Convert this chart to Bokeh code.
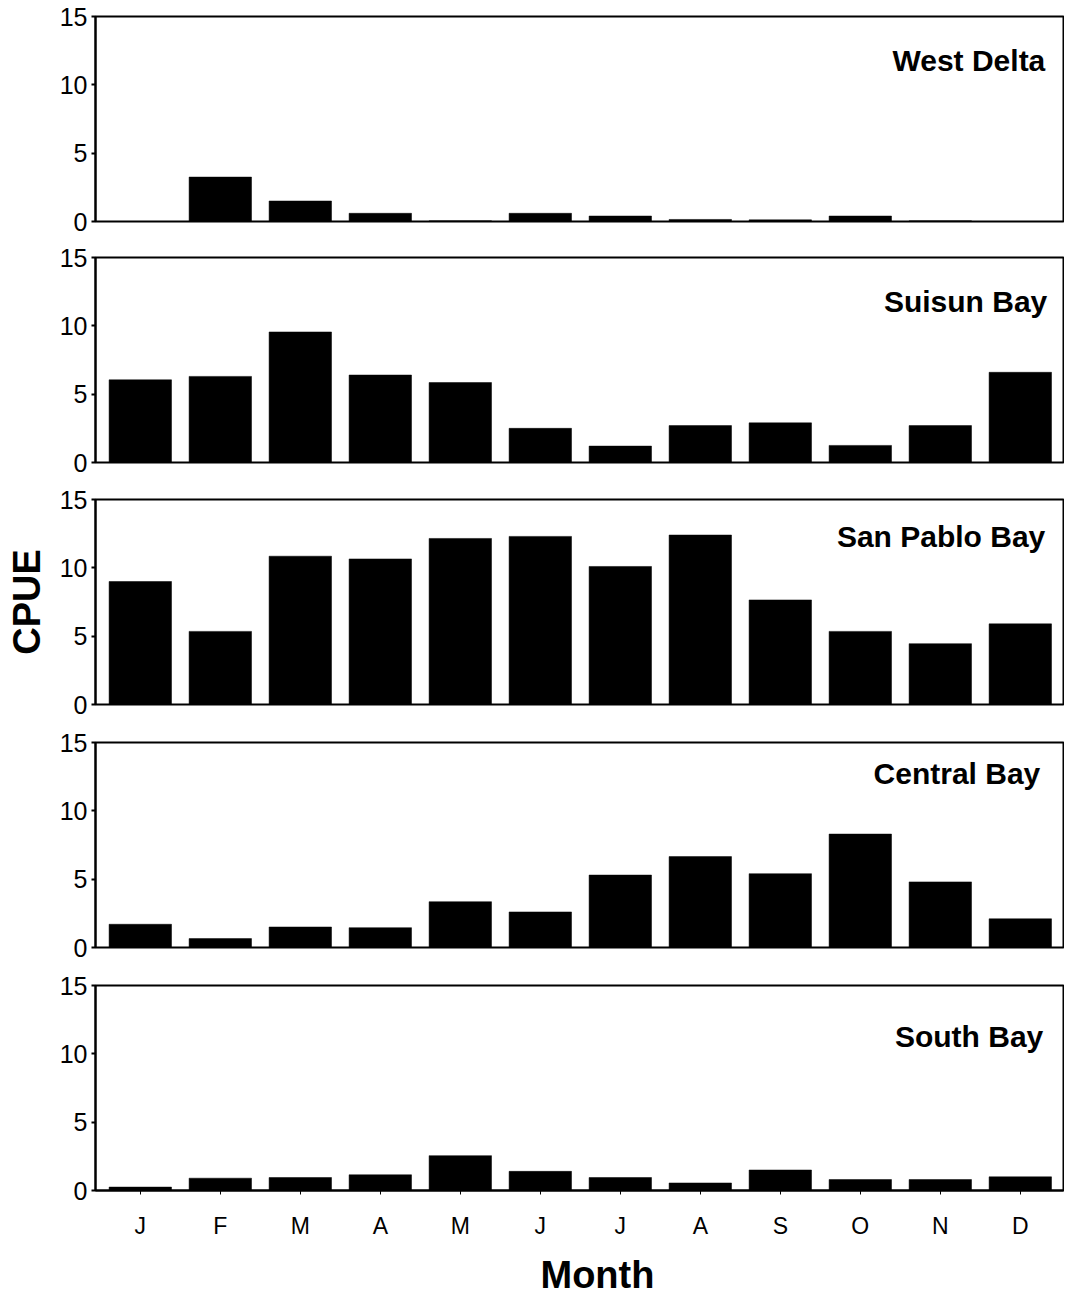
from bokeh.plotting import figure
from bokeh.layouts import column
from bokeh.models import Range1d, FixedTicker, Label, Title
from bokeh.embed import file_html
from bokeh.resources import INLINE

# ---- data ----
month_num = list(range(1, 13))
month_labels = ["J", "F", "M", "A", "M", "J", "J", "A", "S", "O", "N", "D"]
regions = ["West Delta", "Suisun Bay", "San Pablo Bay", "Central Bay", "South Bay"]
west_delta = [0.0, 3.25, 1.5, 0.6, 0.05, 0.6, 0.4, 0.15, 0.12, 0.4, 0.05, 0.0]
suisun_bay = [6.05, 6.3, 9.55, 6.4, 5.85, 2.5, 1.2, 2.7, 2.9, 1.25, 2.7, 6.6]
san_pablo_bay = [9.0, 5.35, 10.85, 10.65, 12.15, 12.3, 10.1, 12.4, 7.65, 5.35, 4.45, 5.9]
central_bay = [1.7, 0.65, 1.5, 1.45, 3.35, 2.6, 5.3, 6.65, 5.4, 8.3, 4.8, 2.1]
south_bay = [0.25, 0.9, 0.95, 1.15, 2.55, 1.4, 0.95, 0.55, 1.5, 0.8, 0.8, 1.0]
series = [west_delta, suisun_bay, san_pablo_bay, central_bay, south_bay]
y_ticks = [0, 5, 10, 15]
y_title = "CPUE"
x_title = "Month"

# ---- style ----
FONT = "Liberation Sans"
FRAME_W = 968
FRAME_H = 205
LEFT = 95
RIGHT = 1
tops = [16, 21, 22, 23, 23]
bottoms = [15, 15, 15, 15, 115]
title_y = [11.8, 11.8, 12.3, 12.7, 11.3]
title_dx = [-15, -13, -15, -20, -17]

figs = []
for i, (name, vals) in enumerate(zip(regions, series)):
    p = figure(frame_width=FRAME_W, frame_height=FRAME_H,
               x_range=Range1d(0.44, 12.54), y_range=Range1d(0, 15),
               output_backend="svg", toolbar_location=None,
               min_border_left=LEFT, min_border_right=RIGHT,
               min_border_top=tops[i], min_border_bottom=bottoms[i])
    p.vbar(x=month_num, top=vals, bottom=0, width=0.78,
           fill_color="black", line_color="black", line_width=0.5)
    p.xgrid.grid_line_color = None
    p.ygrid.grid_line_color = None
    p.outline_line_color = "black"
    p.outline_line_width = 2
    p.outline_line_alpha = 1
    p.background_fill_color = "white"
    p.border_fill_color = "white"

    ya = p.yaxis[0]
    ya.ticker = FixedTicker(ticks=y_ticks)
    ya.minor_tick_line_color = None
    ya.major_tick_in = 0
    ya.major_tick_out = 4
    ya.axis_line_width = 2
    ya.major_tick_line_width = 2
    ya.axis_line_color = "black"
    ya.major_tick_line_color = "black"
    ya.major_label_text_font = FONT
    ya.major_label_text_font_size = "25px"
    ya.major_label_text_color = "black"
    ya.major_label_standoff = 4
    if i == 2:
        ya.axis_label = y_title
        ya.axis_label_text_font = FONT
        ya.axis_label_text_font_size = "38px"
        ya.axis_label_text_font_style = "bold"
        ya.axis_label_text_color = "black"
        ya.axis_label_standoff = 9

    xa = p.xaxis[0]
    if i < 4:
        xa.visible = False
    else:
        xa.ticker = FixedTicker(ticks=month_num)
        xa.major_label_overrides = {n: lab for n, lab in zip(month_num, month_labels)}
        xa.minor_tick_line_color = None
        xa.major_tick_in = 0
        xa.major_tick_out = 4
        xa.axis_line_width = 2
        xa.major_tick_line_width = 1
        xa.axis_line_color = "black"
        xa.major_label_text_font = FONT
        xa.major_label_text_font_size = "23px"
        xa.major_label_text_color = "black"
        xa.major_label_standoff = 18
        p.add_layout(Title(text=x_title, align="left", offset=445, standoff=20,
                           text_font=FONT, text_font_size="38px",
                           text_font_style="bold", text_color="black"), "below")

    p.add_layout(Label(x=12.5, y=title_y[i], x_offset=title_dx[i], text=name,
                       text_align="right", text_baseline="alphabetic",
                       text_font=FONT, text_font_size="30px",
                       text_font_style="bold", text_color="black"))
    figs.append(p)

layout = column(*figs, spacing=0)
open("out.html", "w").write(file_html(layout, INLINE))
